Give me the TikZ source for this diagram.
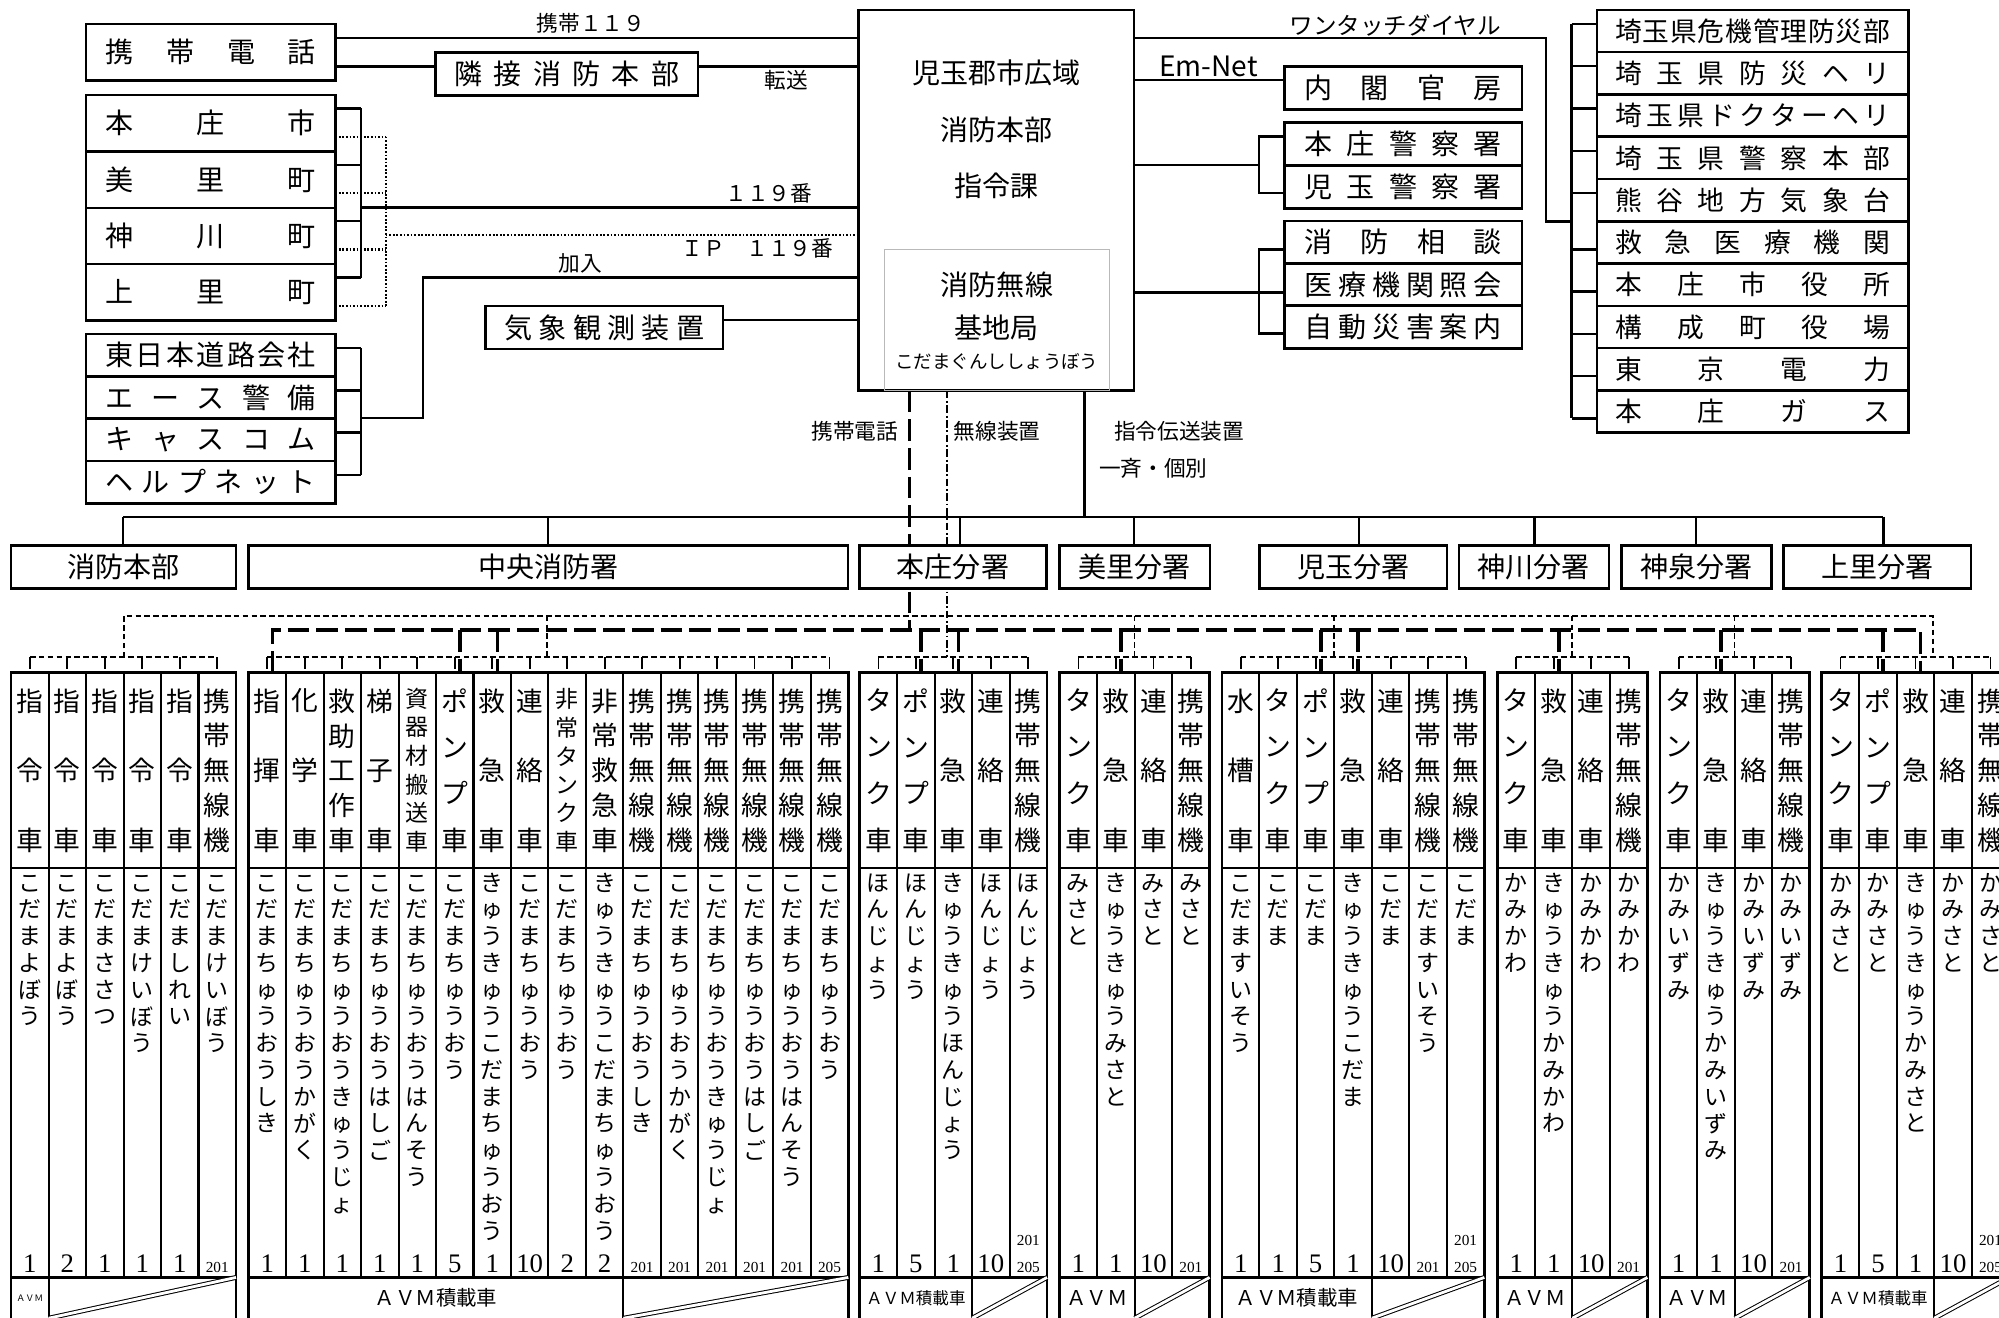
\documentclass[tikz,border=0pt]{standalone}
\usepackage{fontspec}
\setmainfont{Noto Sans CJK JP}
\newfontfamily\numfont{Liberation Serif}
\usetikzlibrary{calc}

\newcommand{\fs}[1]{\fontsize{#1}{#1}\selectfont}
\newcommand{\kogata}[1]{{\fs{12}#1}}
\newcommand{\nidan}{\kogata{201}\\\kogata{205}}

% spaced-out box text, and vertical (tategaki) stacks
\ExplSyntaxOn
\tl_new:N \l_kin_tl
\NewDocumentCommand{\kin}{mm}{
  \tl_set:No \l_kin_tl {#2}
  \hbox_to_wd:nn {#1} { \tl_map_inline:Nn \l_kin_tl { ##1 \hfill } \unskip }
}
\NewDocumentCommand{\tate}{mm}{
  \tl_set:No \l_kin_tl {#2}
  \vbox:n { \offinterlineskip
    \tl_map_inline:Nn \l_kin_tl {
      \vbox_to_ht:nn {#1} { \vss \hbox_to_wd:nn {1em} { \hss \vrule~height~.8em~depth~.2em~width~0pt \relax ##1 \hss } \vss }
    }
  }
}
\NewDocumentCommand{\tatefill}{mm}{
  \tl_set:No \l_kin_tl {#2}
  \int_compare:nNnT { \tl_count:N \l_kin_tl } > { 5 } { \fs{18} }
  \vbox_to_ht:nn {#1} { \offinterlineskip
    \tl_map_inline:Nn \l_kin_tl { \hbox_to_wd:nn {1em} { \hss \vrule~height~.8em~depth~.2em~width~0pt \relax ##1 \hss } \vfill }
    \unskip }
}
\ExplSyntaxOff

\tikzset{
  every node/.style = {inner sep=0pt, outer sep=0pt},
  kbox/.style   = {draw, line width=2pt, fill=white, font=\fs{22}},
  ktxt/.style   = {font=\fs{22}},
  klbl/.style   = {font=\fs{17}},
  kline/.style  = {line width=1.9pt},
  kcol/.style   = {line width=1.6pt},
  kgrp/.style   = {line width=2.2pt},
  kavmline/.style = {line width=2.6pt},
  kslash/.style = {double, double distance=2.2pt, line width=.8pt},
  kphone/.style = {line width=2.8pt, dash pattern=on 17pt off 5.5pt},
  kradio/.style = {line width=1.4pt, dash pattern=on 6pt off 2pt on 1.5pt off 2pt},
  kdash/.style  = {line width=1.4pt, dash pattern=on 4.5pt off 2.5pt},
  ktick/.style  = {line width=1.4pt},
  kdot/.style   = {line width=1.6pt, dash pattern=on 1.4pt off 1.4pt},
  kcar/.style   = {font=\fs{21}, anchor=north},
  kyomi/.style  = {font=\fs{18}, anchor=north},
  kno/.style    = {font=\numfont\fs{21}, anchor=south, align=center},
  kavm/.style   = {font=\fs{16}},
}

% box from corner (x1,y1) to (x2,y2)
\newcommand{\bx}[7][]{\node[kbox, minimum width=#5pt-#3pt, minimum height=#6pt-#4pt, #1] (#2) at ({(#3+#5)/2},{(#4+#6)/2}) {#7};}

% vehicle block: name, left x, columns, AVM columns, AVM text, vehicles
\newcommand{\sharyo}[6]{%
  \pgfmathsetmacro\xr{#2+29.4*#3}%
  \pgfmathsetmacro\xa{#2+29.4*#4}%
  \draw[kdash] ({#2+14.7},515.6) -- ({\xr-14.7},515.6);
  \foreach \nm/\rd/\no [count=\i] in {#6} {
    \pgfmathsetmacro\cx{#2+29.4*(\i-0.5)}
    \ifnum\i>1 \draw[kcol] ({\cx-14.7},527.3) -- ({\cx-14.7},1002); \fi
    \draw[ktick] (\cx,515.6) -- (\cx,524.5);
    \node[kcar] (#1-car\i) at (\cx,540.2) {\tatefill{126.8pt}{\nm}};
    \node[kyomi] (#1-yomi\i) at (\cx,683) {\tate{21pt}{\rd}};
    \node[kno] (#1-no\i) at (\cx,998) {\no};
  }
  \draw[kgrp] (#2,527.3) rectangle (\xr,1040);
  \draw[kcol] (#2,681) -- (\xr,681);
  \draw[kavmline] (#2,1002) -- (\xr,1002);
  \draw[kcol] (\xa,1002) -- (\xa,1040);
  \draw[kslash] (\xa,1034) -- (\xr,1002);
  \node[kavm] (#1-avm) at ({(#2+\xa)/2},1018) {#5};
}

\begin{document}
\begin{tikzpicture}[x=1pt, y=-1pt]
\useasboundingbox (0,0) rectangle (1568,1033.8);
\clip (0,0) rectangle (1568,1033.8);

% command centre
\bx{hq}{673.6}{7.8}{889.6}{306.5}{}
\node[draw=gray!55, line width=.6pt, minimum width=176pt, minimum height=110.5pt] (kichi) at (782,251.25) {};
\node[ktxt] (hq-1) at (781.6,57) {児玉郡市広域};
\node[ktxt] (hq-2) at (781.6,102) {消防本部};
\node[ktxt] (hq-3) at (781.6,146) {指令課};
\node[ktxt] (kichi-1) at (782,223.5) {消防無線};
\node[ktxt] (kichi-2) at (782,257.5) {基地局};
\node[font=\fs{14.5}] (kichi-3) at (782,283.7) {こだまぐんししょうぼう};

% left side
\bx{keitai}{67.5}{18.8}{263}{63.3}{\kin{165pt}{携帯電話}}
\bx{rinsetsu}{341.7}{41}{547.6}{75}{\kin{176pt}{隣接消防本部}}
\bx{kishou}{381}{240}{567}{273.7}{\kin{157pt}{気象観測装置}}
\draw[kline] (keitai.east |- 0,30) -- (hq.west |- 0,30);
\draw[kline] (keitai.east |- 0,52.3) -- (rinsetsu.west |- 0,52.3);
\draw[kline] (rinsetsu.east |- 0,52.3) -- (hq.west |- 0,52.3);
\draw[kline] (kishou.east |- 0,251) -- (hq.west |- 0,251);

\foreach \id/\mei [count=\i] in {honjo/本庄市, misato/美里町, kamikawa/神川町, kamisato/上里町} {
  \pgfmathsetmacro\ya{74.5+44.25*(\i-1)}
  \pgfmathsetmacro\yb{\ya+44.25}
  \pgfmathsetmacro\ys{\ya+10.5}
  \pgfmathsetmacro\yd{\ya+32.7}
  \bx{\id}{67.5}{\ya}{263}{\yb}{\kin{165pt}{\mei}}
  \draw[kline] (\id.east |- 0,\ys) -- (283,\ys);
  \draw[kdot] (\id.east |- 0,\yd) -- (302.5,\yd);
}
\draw[kline] (283,85) -- (283,217.75);
\draw[kdot] (302.5,107.2) -- (302.5,239.95);
\coordinate (tel119) at (283,162.6);
\coordinate (ip119) at (302.5,184.3);
\draw[kline] (tel119) -- (hq.west |- tel119);
\draw[kdot] (ip119) -- (hq.west |- ip119);

\foreach \id/\mei [count=\i] in {nexco/東日本道路会社, ace/エース警備, cascom/キャスコム, helpnet/ヘルプネット} {
  \pgfmathsetmacro\ya{262+33.2*(\i-1)}
  \pgfmathsetmacro\yb{\ya+33.2}
  \pgfmathsetmacro\ys{\ya+11}
  \bx{\id}{67.5}{\ya}{263}{\yb}{\kin{165pt}{\mei}}
  \draw[kline] (\id.east |- 0,\ys) -- (283,\ys);
}
\draw[kline] (283,273) -- (283,372.6);
\coordinate (kanyu) at (283,328);
\draw[kline] (kanyu) -- (331.7,328) -- (331.7,217.5) -- (hq.west |- 0,217.5);

\node[klbl] (l-keitai119) at (463.6,18.3) {携帯１１９};
\node[klbl] (l-tensou) at (617,62.7) {転送};
\node[klbl] (l-119) at (603,151.6) {１１９番};
\node[klbl] (l-ip) at (594,194.8) {ＩＰ　１１９番};
\node[klbl] (l-kanyu) at (455,206.5) {加入};

% right side
\bx{naikaku}{1007.5}{52.3}{1193.7}{85.8}{\kin{155pt}{内閣官房}}
\bx{honjokeisatsu}{1007.5}{96}{1193.7}{130}{\kin{155pt}{本庄警察署}}
\bx{kodamakeisatsu}{1007.5}{130}{1193.7}{163.4}{\kin{155pt}{児玉警察署}}
\bx{soudan}{1007.5}{173.4}{1193.7}{206.5}{\kin{155pt}{消防相談}}
\bx{shoukai}{1007.5}{206.5}{1193.7}{239.8}{\kin{155pt}{医療機関照会}}
\bx{annai}{1007.5}{239.8}{1193.7}{273.2}{\kin{155pt}{自動災害案内}}
\draw[kline] (hq.east |- 0,62.7) -- (naikaku.west |- 0,62.7);
\draw[kline] (hq.east |- 0,129.4) -- (987.4,129.4);
\draw[kline] (honjokeisatsu.west |- 0,107.2) -- (987.4,107.2) -- (987.4,151.6) -- (kodamakeisatsu.west |- 0,151.6);
\draw[kline] (soudan.west |- 0,195.6) -- (987.4,195.6) -- (987.4,261.5) -- (annai.west |- 0,261.5);
\draw[kline] (hq.east |- 0,229.3) -- (shoukai.west |- 0,229.3);

\foreach \mei [count=\i] in {埼玉県危機管理防災部, 埼玉県防災ヘリ, 埼玉県ドクターヘリ, 埼玉県警察本部, 熊谷地方気象台, 救急医療機関, 本庄市役所, 構成町役場, 東京電力, 本庄ガス} {
  \pgfmathsetmacro\ya{7.8+33.16*(\i-1)}
  \pgfmathsetmacro\yb{\ya+33.16}
  \pgfmathsetmacro\ys{\ya+(\i>5 ? 22 : 11)}
  \bx[font=\fs{21}]{kikan\i}{1252.6}{\ya}{1497}{\yb}{\kin{215.7pt}{\mei}}
  \draw[kline] (1232.7,\ys) -- (kikan\i.west |- 0,\ys);
}
\draw[kline] (1232.7,18.8) -- (1232.7,328);
\draw[kline] (hq.east |- 0,30) -- (1212.7,30) -- (1212.7,173.9) -- (1232.7,173.9);

\node[klbl, font=\fs{18.5}] (l-onetouch) at (1094.5,19.6) {ワンタッチダイヤル};
\node[klbl, font=\fs{22}] (l-emnet) at (948,52) {Em-Net};

% links down to the stations
\node[klbl] (l-phone) at (670.5,338.6) {携帯電話};
\node[klbl] (l-radio) at (782.2,338.6) {無線装置};
\node[klbl] (l-shirei) at (925,338.6) {指令伝送装置};
\node[klbl] (l-issei) at (904.6,367.3) {一斉・個別};

\draw[kline] (hq.south -| 850.5,0) -- (850.5,405.3);
\draw[kline] (96.6,405.3) -- (1477.3,405.3);
\draw[kradio] (hq.south -| 742.6,0) -- (742.6,515.6);
\draw[kphone] (hq.south -| 713.3,0) -- (713.3,494.2);

\draw[kdash] (97,515.6) -- (97,482.9) -- (1516.3,482.9) -- (1516.3,515.6);
\foreach \x in {429,889.8,1046.4,1233,1360.5} \draw[kdash] (\x,482.9) -- (\x,515.6);
\draw[kphone] (213.7,527.3) -- (213.7,494.2) -- (1506.5,494.2) -- (1506.5,527.3);
\foreach \x in {360.7,390.1,722.4,751.8,879.3,1036,1065.4,1222.7,1350.1,1477.1} \draw[kphone] (\x,494.2) -- (\x,527.3);

% stations
\foreach \id/\mei/\xa/\xb/\xd in {s1/消防本部/8.7/185/96.6, s2/中央消防署/195/665/430, s3/本庄分署/674/821/753, s4/美里分署/831/949/889.7, s5/児玉分署/988/1135/1066, s6/神川分署/1144.3/1262/1203.6, s7/神泉分署/1271.7/1389.5/1330.5, s8/上里分署/1399/1546/1477.3} {
  \bx{\id}{\xa}{428}{\xb}{461.5}{\mei}
  \draw[kline] (\xd,405.3) -- (\id.north -| \xd,0);
}

% vehicles
\sharyo{g1}{8.7}{6}{1}{{\fs{7}ＡＶＭ}}{指令車/こだまよぼう/1, 指令車/こだまよぼう/2, 指令車/こだまささつ/1, 指令車/こだまけいぼう/1, 指令車/こだましれい/1, 携帯無線機/こだまけいぼう/\kogata{201}}
\sharyo{g2}{195}{16}{10}{ＡＶＭ積載車}{指揮車/こだまちゅうおうしき/1, 化学車/こだまちゅうおうかがく/1, 救助工作車/こだまちゅうおうきゅうじょ/1, 梯子車/こだまちゅうおうはしご/1, 資器材搬送車/こだまちゅうおうはんそう/1, ポンプ車/こだまちゅうおう/5, 救急車/きゅうきゅうこだまちゅうおう/1, 連絡車/こだまちゅうおう/10, 非常タンク車/こだまちゅうおう/2, 非常救急車/きゅうきゅうこだまちゅうおう/2, 携帯無線機/こだまちゅうおうしき/\kogata{201}, 携帯無線機/こだまちゅうおうかがく/\kogata{201}, 携帯無線機/こだまちゅうおうきゅうじょ/\kogata{201}, 携帯無線機/こだまちゅうおうはしご/\kogata{201}, 携帯無線機/こだまちゅうおうはんそう/\kogata{201}, 携帯無線機/こだまちゅうおう/\kogata{205}}
\sharyo{g3}{674.3}{5}{3}{{\fs{13}ＡＶＭ積載車}}{タンク車/ほんじょう/1, ポンプ車/ほんじょう/5, 救急車/きゅうきゅうほんじょう/1, 連絡車/ほんじょう/10, 携帯無線機/ほんじょう/\nidan}
\sharyo{g4}{831.2}{4}{2}{ＡＶＭ}{タンク車/みさと/1, 救急車/きゅうきゅうみさと/1, 連絡車/みさと/10, 携帯無線機/みさと/\kogata{201}}
\sharyo{g5}{958.5}{7}{4}{ＡＶＭ積載車}{水槽車/こだますいそう/1, タンク車/こだま/1, ポンプ車/こだま/5, 救急車/きゅうきゅうこだま/1, 連絡車/こだま/10, 携帯無線機/こだますいそう/\kogata{201}, 携帯無線機/こだま/\nidan}
\sharyo{g6}{1174.6}{4}{2}{ＡＶＭ}{タンク車/かみかわ/1, 救急車/きゅうきゅうかみかわ/1, 連絡車/かみかわ/10, 携帯無線機/かみかわ/\kogata{201}}
\sharyo{g7}{1302}{4}{2}{ＡＶＭ}{タンク車/かみいずみ/1, 救急車/きゅうきゅうかみいずみ/1, 連絡車/かみいずみ/10, 携帯無線機/かみいずみ/\kogata{201}}
\sharyo{g8}{1429}{5}{3}{{\fs{13}ＡＶＭ積載車}}{タンク車/かみさと/1, ポンプ車/かみさと/5, 救急車/きゅうきゅうかみさと/1, 連絡車/かみさと/10, 携帯無線機/かみさと/\nidan}
\end{tikzpicture}
\end{document}
